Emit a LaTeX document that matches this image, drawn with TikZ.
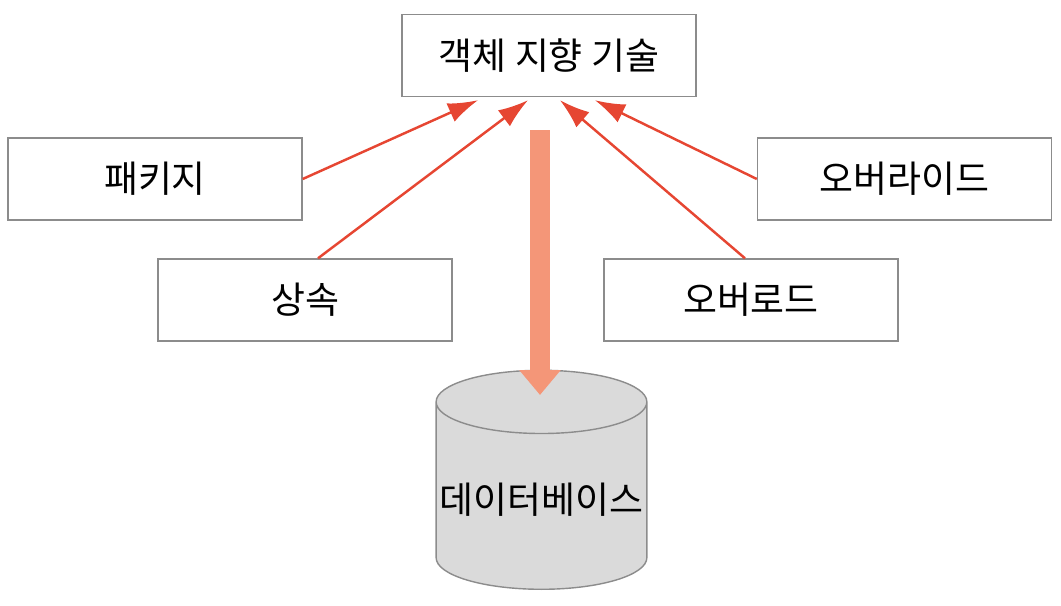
\documentclass[tikz,border=0pt]{standalone}
\usepackage{fontspec}
\setmainfont{Noto Sans CJK KR}
\usetikzlibrary{shapes.geometric,arrows.meta}
\definecolor{linkred}{RGB}{230,70,50}
\definecolor{flowsalmon}{RGB}{244,150,120}
\definecolor{dbgray}{RGB}{218,218,218}
\tikzset{
  topic/.style={draw=black!45, minimum width=2.94cm, minimum height=0.82cm, font=\fontsize{10.5}{12}\selectfont},
  link/.style={-{Latex[length=3mm,width=2mm]}, linkred, line width=0.7pt}
}
\begin{document}
\begin{tikzpicture}
    \useasboundingbox (0,0) rectangle (10.61,-6.06);

    % Boxes
    \node[topic] (oop) at (5.49,-0.555) {객체 지향 기술};
    \node[topic] (pkg) at (1.55,-1.79) {패키지};
    \node[topic] (inh) at (3.05,-3.0) {상속};
    \node[topic] (ovl) at (7.51,-3.0) {오버로드};
    \node[topic] (ovr) at (9.045,-1.79) {오버라이드};

    % Database
    \node[cylinder, shape border rotate=90, aspect=0.3, draw=black!45, fill=dbgray,
          minimum width=1.8cm, minimum height=2.19cm, inner sep=1pt, font=\fontsize{10.5}{12}\selectfont]
          (db) at (5.415,-5.0) {데이터베이스};

    % Arrows
    \draw[link] (pkg.east) -- ([xshift=-0.71cm,yshift=-0.03cm]oop.south);
    \draw[link] ([xshift=0.13cm]inh.north) -- ([xshift=-0.21cm,yshift=-0.03cm]oop.south);
    \draw[link] ([xshift=-0.06cm]ovl.north) -- ([xshift=0.11cm,yshift=-0.03cm]oop.south);
    \draw[link] (ovr.west) -- ([xshift=0.46cm,yshift=-0.03cm]oop.south);
    \coordinate (flow) at (5.4,-1.3);
    \draw[-{Triangle[length=2.5mm,width=4mm]}, flowsalmon, line width=2mm] (flow) -- (flow |- 0,-3.95);
\end{tikzpicture}
\end{document}
